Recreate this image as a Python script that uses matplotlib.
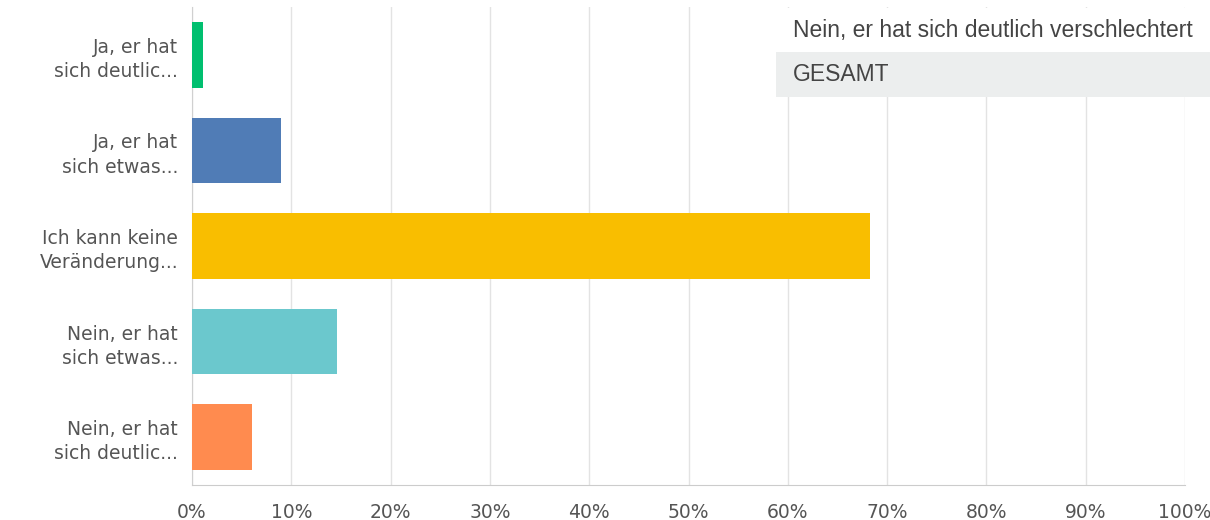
import matplotlib
matplotlib.use("Agg")
import matplotlib.pyplot as plt
from matplotlib.patches import Rectangle

categories = ["Ja, er hat\nsich deutlic...", "Ja, er hat\nsich etwas...",
              "Ich kann keine\nVeränderung...", "Nein, er hat\nsich etwas...",
              "Nein, er hat\nsich deutlic..."]
values = [1.1, 9.0, 68.3, 14.6, 6.0]
colors = ["#00BF6F", "#507CB6", "#F9BE00", "#6BC8CD", "#FF8B4F"]
xticks = [0, 10, 20, 30, 40, 50, 60, 70, 80, 90, 100]
xticklabels = [f"{t}%" for t in xticks]
tooltip_title = "Nein, er hat sich deutlich verschlechtert"
tooltip_row = "GESAMT"

W, H = 1210, 520
fig = plt.figure(figsize=(W / 100, H / 100), dpi=100)
ax = fig.add_axes([192 / W, 1 - 485 / H, (1185 - 192) / W, (485 - 7) / H])

y = list(range(len(categories)))
ax.barh(y, values, height=0.686, color=colors, zorder=3)
ax.set_ylim(len(categories) - 0.5, -0.5)
ax.set_xlim(0, 100)
ax.set_yticks(y)
ax.set_yticklabels(categories, fontsize=13.5, color="#555555", linespacing=1.35,
                   family="DejaVu Sans")
ax.set_xticks(xticks)
ax.set_xticklabels(xticklabels, fontsize=13.5, color="#555555", family="DejaVu Sans")
ax.tick_params(axis="both", length=0)
ax.tick_params(axis="y", pad=10)
ax.tick_params(axis="x", pad=13)
ax.grid(axis="x", color="#e3e3e3", linewidth=1, zorder=0)
for s in ["top", "right"]:
    ax.spines[s].set_visible(False)
ax.spines["left"].set_color("#d0d0d0")
ax.spines["bottom"].set_color("#cccccc")

# tooltip
fig.patches.append(Rectangle((776 / W, 1 - 52 / H), (W - 776) / W, 44 / H,
                             transform=fig.transFigure, facecolor="white",
                             edgecolor="none", zorder=5))
fig.patches.append(Rectangle((776 / W, 1 - 97 / H), (W - 776) / W, 45 / H,
                             transform=fig.transFigure, facecolor="#eceeee",
                             edgecolor="none", zorder=5))
fig.text(793 / W, 1 - 30 / H, tooltip_title, fontsize=16.5, color="#444444",
         family="Liberation Sans", va="center", ha="left", zorder=6)
fig.text(793 / W, 1 - 75 / H, tooltip_row, fontsize=16.5, color="#444444",
         family="Liberation Sans", va="center", ha="left", zorder=6)

fig.savefig("out.png", dpi=100)
